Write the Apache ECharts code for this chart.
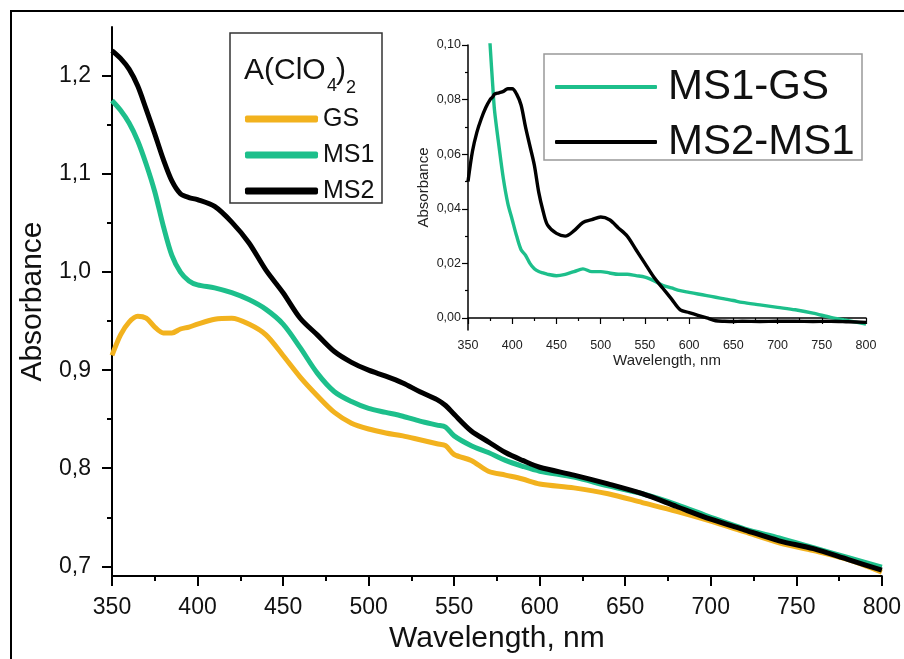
<!DOCTYPE html>
<html>
<head>
<meta charset="utf-8">
<script src="https://cdn.jsdelivr.net/npm/echarts@6/dist/echarts.min.js"></script>
<style>
html,body{margin:0;padding:0;background:#fff;}
#chart{width:904px;height:659px;}
</style>
</head>
<body>
<div id="chart"></div>
<script>
// ---------- Main chart data ----------
const wavelengths = [350,355,360,365,370,375,380,385,390,395,400,410,420,430,440,450,460,470,480,490,500,510,520,530,540,545,550,560,570,580,590,600,620,640,660,680,700,720,740,760,780,800];
const gsValues  = [0.915,0.936,0.949,0.955,0.953,0.944,0.938,0.938,0.942,0.944,0.947,0.952,0.953,0.947,0.936,0.915,0.893,0.874,0.857,0.846,0.840,0.836,0.833,0.829,0.825,0.823,0.814,0.808,0.797,0.793,0.789,0.784,0.780,0.774,0.765,0.756,0.746,0.735,0.724,0.716,0.707,0.694];
const ms1Values = [1.175,1.165,1.152,1.134,1.110,1.082,1.047,1.017,1.000,0.991,0.987,0.984,0.979,0.972,0.962,0.947,0.923,0.897,0.878,0.868,0.861,0.857,0.853,0.848,0.844,0.842,0.833,0.823,0.816,0.808,0.802,0.797,0.791,0.782,0.774,0.763,0.750,0.738,0.729,0.719,0.709,0.699];
const ms2Values = [1.226,1.218,1.207,1.190,1.166,1.141,1.115,1.093,1.080,1.076,1.074,1.067,1.051,1.030,1.002,0.979,0.953,0.936,0.919,0.908,0.900,0.894,0.887,0.878,0.870,0.864,0.855,0.838,0.827,0.816,0.808,0.801,0.793,0.784,0.774,0.761,0.748,0.737,0.726,0.718,0.707,0.696];
const mainYTicks = [0.7,0.8,0.9,1.0,1.1,1.2];
const mainYMinorTicks = [0.75,0.85,0.95,1.05,1.15];

// ---------- Inset data ----------
const insetWavelengths = [350,355,360,365,370,375,378,380,385,390,395,400,405,410,415,420,425,430,435,440,450,460,470,480,490,500,510,520,530,540,550,560,570,580,590,600,610,620,630,640,650,660,680,700,720,740,760,780,800];
const ms1MinusGs = [0.26,0.229,0.205,0.181,0.13,0.100,0.085,0.076,0.063,0.051,0.042,0.036,0.030,0.025,0.023,0.020,0.018,0.017,0.0165,0.016,0.0155,0.016,0.017,0.018,0.017,0.017,0.0165,0.016,0.016,0.0155,0.015,0.0137,0.012,0.011,0.010,0.0094,0.0088,0.0082,0.0076,0.007,0.0064,0.0057,0.0048,0.0039,0.003,0.0018,0.0002,-0.001,-0.0022];
const ms2MinusMs1 = [0.050,0.061,0.068,0.073,0.077,0.080,0.081,0.082,0.0825,0.083,0.084,0.084,0.082,0.078,0.070,0.063,0.056,0.046,0.039,0.034,0.031,0.030,0.032,0.035,0.036,0.037,0.036,0.033,0.030,0.025,0.020,0.015,0.011,0.007,0.003,0.002,0.001,0.000,-0.001,-0.0012,-0.0013,-0.0012,-0.0013,-0.0012,-0.0012,-0.0013,-0.0012,-0.0014,-0.0016];
const insetYTicks = [0,0.02,0.04,0.06,0.08,0.10];
const insetYMinorTicks = [0.01,0.03,0.05,0.07,0.09];

const FONT = "'Liberation Sans', Arial, sans-serif";
const ORANGE = '#f2b21e';
const GREEN = '#1dbf8b';
const BLACK = '#000000';

const pairs = (xs, ys) => xs.map((x, i) => [x, ys[i]]);

const chart = echarts.init(document.getElementById('chart'), null, {renderer: 'canvas'});

const axisLineStyle = {color: '#000', width: 2};

const option = {
  backgroundColor: '#fff',
  animation: false,
  textStyle: {fontFamily: FONT},
  grid: [
    {left: 112, top: 27, width: 771, height: 551, containLabel: false},
    {left: 468, top: 45, width: 398, height: 285, containLabel: false}
  ],
  xAxis: [
    {
      type: 'value', gridIndex: 0, min: 350, max: 800, interval: 50,
      axisLine: {show: true, lineStyle: axisLineStyle},
      axisTick: {show: true, inside: false, length: 10, lineStyle: {color: '#000', width: 2}},
      minorTick: {show: true, splitNumber: 2, length: 5, lineStyle: {color: '#000', width: 2}},
      splitLine: {show: false},
      axisLabel: {color: '#111', fontSize: 23, fontFamily: FONT, margin: 20, hideOverlap: false, showMinLabel: true, showMaxLabel: true},
      name: 'Wavelength, nm', nameLocation: 'middle', nameGap: 46,
      nameTextStyle: {color: '#111', fontSize: 30, fontFamily: FONT}
    },
    {
      type: 'value', gridIndex: 1, min: 350, max: 800, interval: 50,
      axisLine: {show: true, lineStyle: {color: '#000', width: 1.5}},
      axisTick: {show: true, inside: false, length: 6, lineStyle: {color: '#000', width: 1.2}},
      minorTick: {show: true, splitNumber: 2, length: 3, lineStyle: {color: '#000', width: 1.2}},
      splitLine: {show: false},
      axisLabel: {color: '#222', fontSize: 12.5, fontFamily: FONT, margin: 9, hideOverlap: false},
      name: 'Wavelength, nm', nameLocation: 'middle', nameGap: 21,
      nameTextStyle: {color: '#222', fontSize: 15, fontFamily: FONT}
    }
  ],
  yAxis: [
    {
      type: 'value', gridIndex: 0, position: 'left', min: 0.69, max: 1.25,
      axisLine: {show: true, lineStyle: axisLineStyle},
      axisTick: {show: true, inside: false, length: 10, customValues: mainYTicks, lineStyle: {color: '#000', width: 2}},
      splitLine: {show: false},
      axisLabel: {color: '#111', fontSize: 23, fontFamily: FONT, margin: 21, customValues: mainYTicks,
        formatter: v => v.toFixed(1).replace('.', ',')},
      name: 'Absorbance', nameLocation: 'middle', nameGap: 63, nameRotate: 90,
      nameTextStyle: {color: '#111', fontSize: 30, fontFamily: FONT}
    },
    {
      type: 'value', gridIndex: 0, position: 'left', offset: 0, min: 0.69, max: 1.25,
      axisLine: {show: false},
      axisTick: {show: true, inside: false, length: 5, customValues: mainYMinorTicks, lineStyle: {color: '#000', width: 2}},
      splitLine: {show: false},
      axisLabel: {show: false}
    },
    {
      type: 'value', gridIndex: 1, position: 'left', min: -0.0044, max: 0.10,
      axisLine: {show: true, lineStyle: {color: '#000', width: 1.5}},
      axisTick: {show: true, inside: false, length: 6, customValues: insetYTicks, lineStyle: {color: '#000', width: 1.2}},
      splitLine: {show: false},
      axisLabel: {color: '#222', fontSize: 12.5, fontFamily: FONT, margin: 7, customValues: insetYTicks,
        formatter: v => v.toFixed(2).replace('.', ',')},
      name: 'Absorbance', nameLocation: 'middle', nameGap: 37, nameRotate: 90,
      nameTextStyle: {color: '#222', fontSize: 15, fontFamily: FONT}
    },
    {
      type: 'value', gridIndex: 1, position: 'left', offset: 0, min: -0.0044, max: 0.10,
      axisLine: {show: false},
      axisTick: {show: true, inside: false, length: 3, customValues: insetYMinorTicks, lineStyle: {color: '#000', width: 1.2}},
      splitLine: {show: false},
      axisLabel: {show: false}
    }
  ],
  legend: [
    {
      data: ['GS', 'MS1', 'MS2'], orient: 'vertical', left: 240, top: 100,
      icon: 'roundRect', itemWidth: 73, itemHeight: 7, itemGap: 8,
      textStyle: {color: '#111', fontSize: 25, lineHeight: 28, fontFamily: FONT},
      selectedMode: false
    },
    {
      data: ['MS1-GS', 'MS2-MS1'], orient: 'vertical', left: 550, top: 59,
      icon: 'roundRect', itemWidth: 102, itemHeight: 4, itemGap: 9,
      textStyle: {color: '#111', fontSize: 42, lineHeight: 46, fontFamily: FONT, padding: [0, 0, 0, 6]},
      selectedMode: false
    }
  ],
  graphic: [
    {type: 'rect', shape: {x: 11, y: 11, width: 920, height: 700}, style: {fill: 'none', stroke: '#000', lineWidth: 2}, silent: true, z: 100},
    {type: 'rect', shape: {x: 230, y: 33, width: 152, height: 170}, style: {fill: 'none', stroke: '#333', lineWidth: 1.5}, silent: true, z: 100},
    {type: 'rect', shape: {x: 544, y: 54, width: 318, height: 106}, style: {fill: 'none', stroke: '#999', lineWidth: 1.5}, silent: true, z: 100},
    {type: 'text', x: 244, y: 70.5, style: {text: 'A(ClO', fontSize: 30, fontFamily: FONT, fill: '#111', verticalAlign: 'middle', align: 'left'}, z: 100},
    {type: 'text', x: 327, y: 86, style: {text: '4', fontSize: 18, fontFamily: FONT, fill: '#111', verticalAlign: 'middle', align: 'left'}, z: 100},
    {type: 'text', x: 336, y: 70.5, style: {text: ')', fontSize: 30, fontFamily: FONT, fill: '#111', verticalAlign: 'middle', align: 'left'}, z: 100},
    {type: 'text', x: 346, y: 88, style: {text: '2', fontSize: 18, fontFamily: FONT, fill: '#111', verticalAlign: 'middle', align: 'left'}, z: 100}
  ],
  series: [
    {name: 'GS', type: 'line', xAxisIndex: 0, yAxisIndex: 0, data: pairs(wavelengths, gsValues), smooth: 0.3,
      showSymbol: false, symbol: 'none', color: ORANGE, lineStyle: {color: ORANGE, width: 5}, clip: true},
    {name: 'MS1', type: 'line', xAxisIndex: 0, yAxisIndex: 0, data: pairs(wavelengths, ms1Values), smooth: 0.3,
      showSymbol: false, symbol: 'none', color: GREEN, lineStyle: {color: GREEN, width: 5}, clip: true},
    {name: 'MS2', type: 'line', xAxisIndex: 0, yAxisIndex: 0, data: pairs(wavelengths, ms2Values), smooth: 0.3,
      showSymbol: false, symbol: 'none', color: BLACK, lineStyle: {color: BLACK, width: 5}, clip: true},
    {name: 'MS1-GS', type: 'line', xAxisIndex: 1, yAxisIndex: 2, data: pairs(insetWavelengths, ms1MinusGs), smooth: 0.3,
      showSymbol: false, symbol: 'none', color: GREEN, lineStyle: {color: GREEN, width: 3.4}, clip: true},
    {name: 'MS2-MS1', type: 'line', xAxisIndex: 1, yAxisIndex: 2, data: pairs(insetWavelengths, ms2MinusMs1), smooth: 0.3,
      showSymbol: false, symbol: 'none', color: BLACK, lineStyle: {color: BLACK, width: 3.4}, clip: true}
  ]
};

chart.setOption(option);
</script>
</body>
</html>
